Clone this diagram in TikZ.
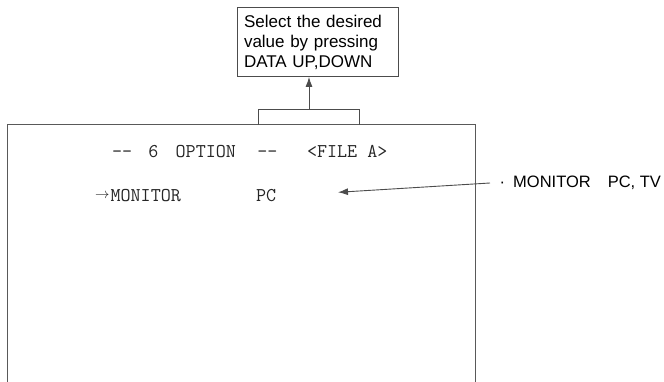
\documentclass[tikz,border=0pt]{standalone}
\usepackage{fontspec}
\setmainfont{Liberation Sans}
\usetikzlibrary{arrows.meta}
\tikzset{
  screenline/.style={draw=black!65, line width=1.3pt},
  thinline/.style={draw=black!70, line width=0.9pt},
  pointer/.style={thinline, -{Latex[length=10pt,width=7pt]}},
  scrtext/.style={inner sep=0pt, anchor=base west, text=black!85,
    font=\ttfamily\fontsize{19.5}{22}\selectfont},
}
\begin{document}
\begin{tikzpicture}[x=1pt, y=-1pt]
    \useasboundingbox (0,0) rectangle (664,382);

    % screen frame
    \draw[screenline] (7.5,382) |- (475.5,124.7) -- (475.5,382);

    % hint box
    \node[thinline, draw, minimum width=161pt, minimum height=69pt,
      text width=147pt, inner xsep=7pt, align=left,
      font=\fontsize{17}{20}\selectfont] (hint) at (317.5,42)
      {Select the desired\\value by pressing\\DATA UP,DOWN};

    % bracket and arrow to hint
    \coordinate (brtop) at (309,109);
    \draw[thinline] (258.5,124.7) |- (359,109) -- (359,124.7);
    \draw[pointer] (brtop) -- (brtop |- hint.south);

    % screen texts
    \node[scrtext] (title) at (112,157.3)
      {-{}-\hspace{16pt}6\hspace{17.4pt}OPTION\hspace{21.5pt}-{}-\hspace{29.5pt}<FILE A>};
    \node[scrtext] (menu) at (95,202)
      {\raisebox{3.5pt}{\fontsize{14}{14}\selectfont$\rightarrow$}\hspace{1pt}MONITOR};
    \node[scrtext] (pcval) at (256,202) {PC};

    % option note
    \node[anchor=west, inner xsep=9.5pt, inner ysep=2pt,
      font=\fontsize{16.5}{20}\selectfont] (opt) at (490,183)
      {\textperiodcentered\hspace{8pt}MONITOR\hspace{17pt}PC, TV};
    \coordinate (pctip) at (338,192.3);
    \draw[pointer] (opt.west) -- (pctip);
\end{tikzpicture}
\end{document}
